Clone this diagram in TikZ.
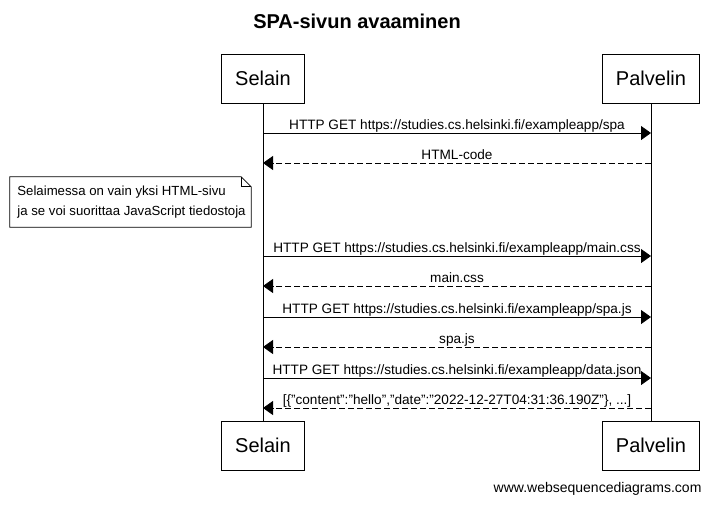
\documentclass[tikz,border=0pt]{standalone}
\usepackage{fontspec}
\setmainfont{Liberation Sans}
\usetikzlibrary{arrows.meta,calc}

\begin{document}
\begin{tikzpicture}[x=1pt,y=-1pt,
  party/.style={draw,line width=0.8pt,font=\fontsize{20}{24}\selectfont,minimum height=49pt,inner xsep=13.5pt},
  life/.style={line width=0.8pt},
  req/.style={-{Triangle[length=10pt,width=14pt]},line width=0.8pt},
  res/.style={req,dash pattern=on 6pt off 3pt},
  lab/.style={font=\fontsize{13.6}{15}\selectfont,anchor=base,yshift=4pt,inner sep=0pt},
  notebox/.style={align=left,font=\fontsize{13.2}{20}\selectfont,minimum width=241pt,minimum height=50pt,inner sep=0pt}]
\useasboundingbox[fill=white] (0,0) rectangle (714,504);
\node[font=\fontsize{20}{24}\selectfont\bfseries] (title) at (357,21) {SPA-sivun avaaminen};
\node[party] (selA) at (263,78.5) {Selain};
\node[party] (palA) at (651,78.5) {Palvelin};
\node[party] (selB) at (263,445.5) {Selain};
\node[party] (palB) at (651,445.5) {Palvelin};
\draw[life] (selA) -- (selB);
\draw[life] (palA) -- (palB);
\foreach \i/\y in {1/133,2/163,3/256,4/286,5/317,6/347,7/378,8/408}{
  \coordinate (s\i) at (263,\y);
  \coordinate (p\i) at (651,\y);
}
\draw[req] (s1) -- node[lab]{HTTP GET https://studies.cs.helsinki.fi/exampleapp/spa} (p1);
\draw[res] (p2) -- node[lab]{HTML-code} (s2);
% note
\node[notebox] (info) at (131.5,202) {Selaimessa on vain yksi HTML-sivu\\ja se voi suorittaa JavaScript tiedostoja};
\draw[line width=0.8pt] ($(info.north west)+(-1,0)$) -- ($(info.north east)+(-11,0)$) -- ($(info.north east)+(-1,10)$) -- ($(info.south east)+(-1,0)$) -- ($(info.south west)+(-1,0)$) -- cycle;
\draw[line width=0.8pt] ($(info.north east)+(-11,0)$) -- ($(info.north east)+(-11,10)$) -- ($(info.north east)+(-1,10)$);
\draw[req] (s3) -- node[lab]{HTTP GET https://studies.cs.helsinki.fi/exampleapp/main.css} (p3);
\draw[res] (p4) -- node[lab]{main.css} (s4);
\draw[req] (s5) -- node[lab]{HTTP GET https://studies.cs.helsinki.fi/exampleapp/spa.js} (p5);
\draw[res] (p6) -- node[lab]{spa.js} (s6);
\draw[req] (s7) -- node[lab]{HTTP GET https://studies.cs.helsinki.fi/exampleapp/data.json} (p7);
\draw[res] (p8) -- node[lab]{[\{"content":"hello","date":"2022-12-27T04:31:36.190Z"\}, ...]} (s8);
\node[font=\fontsize{14}{16}\selectfont,anchor=east] (site) at (705,489) {www.websequencediagrams.com};
\end{tikzpicture}
\end{document}
